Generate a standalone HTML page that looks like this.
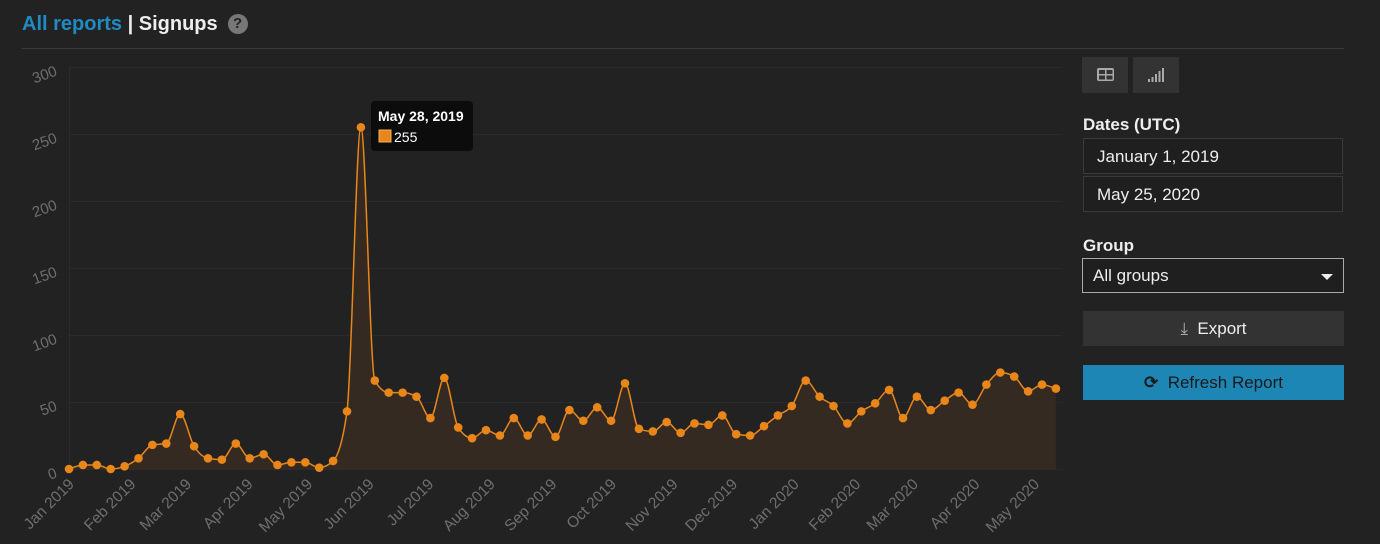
<!DOCTYPE html>
<html><head><meta charset="utf-8"><style>
body{margin:0;width:1380px;height:544px;background:#222;font-family:"Liberation Sans",sans-serif;overflow:hidden;position:relative}
.h{position:absolute;left:22px;top:13px;font-size:20px;font-weight:bold;color:#eee}
.h a{color:#1e8bc3}
.q{display:inline-block;width:20px;height:20px;border-radius:50%;background:#777;color:#222;font-size:15px;text-align:center;line-height:20px;margin-left:10px;vertical-align:2px}
.hr{position:absolute;left:22px;top:48px;width:1322px;height:1px;background:#3a3a3a}
.ib{position:absolute;top:57px;width:46px;height:36px;background:#333}
.lab{position:absolute;left:1083px;font-size:17px;font-weight:bold;color:#eee}
.inp{position:absolute;left:1083px;width:258px;height:36px;border:1px solid #3a3a3a;background:#1f1f1f;color:#eee;font-size:17px;line-height:36px;padding-left:12px;box-sizing:border-box}
.btn{position:absolute;left:1083px;width:261px;height:35px;font-size:17px;text-align:center;line-height:35px}
</style></head><body>
<div class="h"><a>All reports</a> | Signups<span class="q">?</span></div>
<div class="hr"></div>
<div class="ib" style="left:1082px"><svg width="46" height="36"><rect x="15" y="11" width="17" height="13" rx="2" fill="#aaa"/><rect x="17" y="13" width="6" height="4" fill="#333"/><rect x="24.5" y="13" width="6" height="4" fill="#333"/><rect x="17" y="18.5" width="6" height="4" fill="#333"/><rect x="24.5" y="18.5" width="6" height="4" fill="#333"/></svg></div>
<div class="ib" style="left:1133px"><svg width="46" height="36"><g fill="#aaa"><rect x="15" y="22" width="2" height="3"/><rect x="18.5" y="20" width="2" height="5"/><rect x="22" y="17" width="2" height="8"/><rect x="25.5" y="14" width="2" height="11"/><rect x="29" y="11" width="2" height="14"/></g></svg></div>
<div class="lab" style="top:115px">Dates (UTC)</div>
<div class="inp" style="top:138px;left:1083px;width:260px;padding-left:13px">January 1, 2019</div>
<div class="inp" style="top:176px;left:1083px;width:260px;padding-left:13px">May 25, 2020</div>
<div class="lab" style="top:236px">Group</div>
<div class="inp" style="top:258px;left:1082px;width:262px;height:35px;border-color:#aaa;line-height:33px;padding-left:10px">All groups<span style="position:absolute;right:10px;top:15px;border:6px solid transparent;border-top-color:#eee;border-bottom:0"></span></div>
<div class="btn" style="top:311px;background:#333;color:#eee"><span style="color:#aaa">⤓</span>&nbsp; Export</div>
<div class="btn" style="top:365px;background:#1e86b5;color:#1a1a1a"><b>⟳</b>&nbsp; Refresh Report</div>
<svg style="position:absolute;left:0;top:0" width="1075" height="544">
<g stroke="#2b2b2b" stroke-width="1">
<line x1="69" y1="67.5" x2="1062" y2="67.5"/><line x1="69" y1="134.5" x2="1062" y2="134.5"/><line x1="69" y1="201.5" x2="1062" y2="201.5"/><line x1="69" y1="268.5" x2="1062" y2="268.5"/><line x1="69" y1="335.5" x2="1062" y2="335.5"/><line x1="69" y1="402.5" x2="1062" y2="402.5"/><line x1="69" y1="469.5" x2="1062" y2="469.5"/><line x1="69.5" y1="67" x2="69.5" y2="469"/>
</g>
<g fill="#6f6f6f" font-size="15" text-anchor="end">
<text transform="translate(58,75) rotate(-20)">300</text>
<text transform="translate(58,142) rotate(-20)">250</text>
<text transform="translate(58,209) rotate(-20)">200</text>
<text transform="translate(58,276) rotate(-20)">150</text>
<text transform="translate(58,343) rotate(-20)">100</text>
<text transform="translate(58,410) rotate(-20)">50</text>
<text transform="translate(58,477) rotate(-20)">0</text>
</g>
<g id="xl" fill="#6f6f6f" font-size="15.5" text-anchor="end"></g>
<path id="area" fill="#352a22"/>
<path id="line" fill="none" stroke="#e8861a" stroke-width="1.5"/>
<g id="dots" fill="#e8861a"></g>
<rect x="371" y="101" width="102" height="50" rx="4" fill="#0c0c0c"/>
<text x="378" y="121" fill="#fff" font-size="14" font-weight="bold">May 28, 2019</text>
<rect x="379" y="130" width="12" height="12" fill="#e8861a" stroke="#f5b060" stroke-width="1"/>
<text x="394" y="142" fill="#fff" font-size="14">255</text>
</svg>
<script>
var v=[0,3,3,0,2,8,18,19,41,17,8,7,19,8,11,3,5,5,1,6,43,255,66,57,57,54,38,68,31,23,29,25,38,25,37,24,44,36,46,36,64,30,28,35,27,34,33,40,26,25,32,40,47,66,54,47,34,43,49,59,38,54,44,51,57,48,63,72,69,58,63,60];
var H=13.9;
var pts=v.map(function(d,i){return [69+i*H,469-d*1.34]});
function sg(x){return x<0?-1:x>0?1:0}
function sp(p){var n=p.length,m=[];
for(var i=0;i<n;i++){
 if(i==0){m[i]=(p[1][1]-p[0][1])/H;continue}
 if(i==n-1){m[i]=(p[i][1]-p[i-1][1])/H;continue}
 var s0=(p[i][1]-p[i-1][1])/H,s1=(p[i+1][1]-p[i][1])/H,pp=(s0+s1)/2;
 m[i]=(sg(s0)+sg(s1))*Math.min(Math.abs(s0),Math.abs(s1),0.5*Math.abs(pp))||0;}
var s="M"+p[0][0]+","+p[0][1];
for(var i=0;i<n-1;i++){var d=H/3;s+=" C"+(p[i][0]+d)+","+(p[i][1]+m[i]*d)+" "+(p[i+1][0]-d)+","+(p[i+1][1]-m[i+1]*d)+" "+p[i+1][0]+","+p[i+1][1];}
return s;}
var d=sp(pts);document.getElementById("line").setAttribute("d",d);
document.getElementById("area").setAttribute("d",d+" L"+pts[pts.length-1][0]+",469 L69,469Z");
var g=document.getElementById("dots"),h="";pts.forEach(function(p){h+='<circle cx="'+p[0]+'" cy="'+p[1]+'" r="4.3"/>'});g.innerHTML=h;
var m=[["Jan 2019",0],["Feb 2019",31],["Mar 2019",59],["Apr 2019",90],["May 2019",120],["Jun 2019",151],["Jul 2019",181],["Aug 2019",212],["Sep 2019",243],["Oct 2019",273],["Nov 2019",304],["Dec 2019",334],["Jan 2020",365],["Feb 2020",396],["Mar 2020",425],["Apr 2020",456],["May 2020",486]];
h="";m.forEach(function(a){var x=69+a[1]*1.986+6;h+='<text transform="translate('+x+',485) rotate(-45)">'+a[0]+'</text>'});document.getElementById("xl").innerHTML=h;
</script>
</body></html>
